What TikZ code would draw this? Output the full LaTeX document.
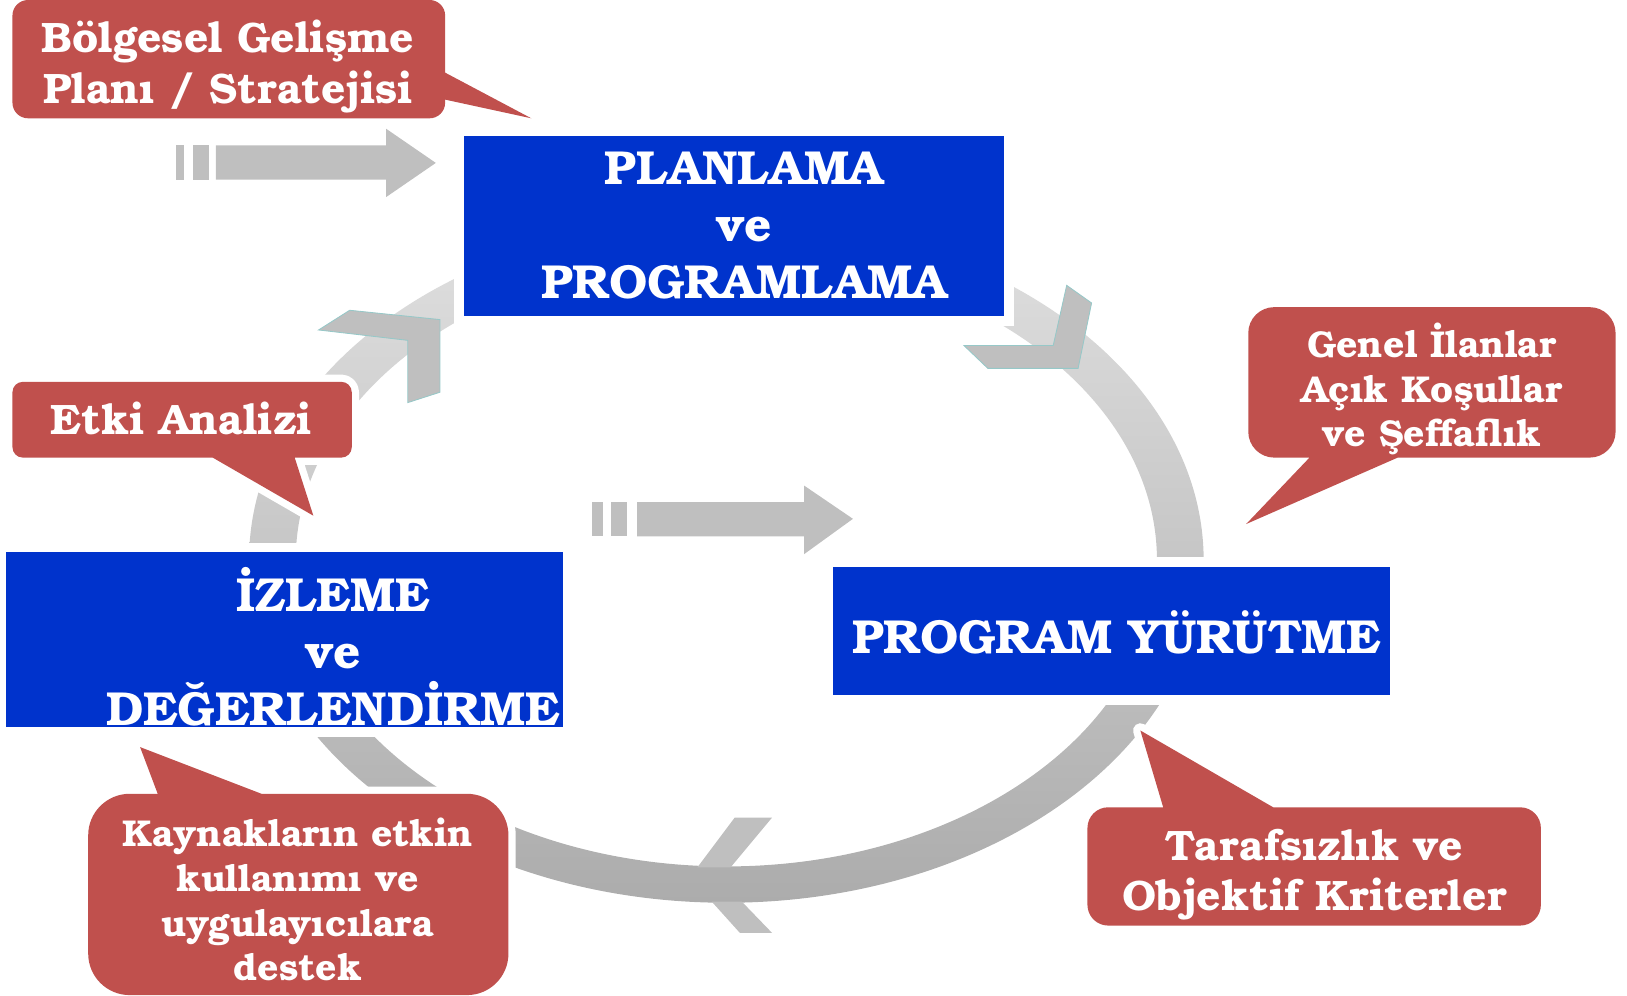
\documentclass[tikz,border=0pt]{standalone}
\usepackage{fontspec}
\setmainfont{TeX Gyre Bonum}
\definecolor{boxblue}{RGB}{0,51,204}
\definecolor{calloutred}{RGB}{192,80,77}
\definecolor{chevgray}{RGB}{191,191,191}
\definecolor{chevedge}{RGB}{150,200,200}
\definecolor{ringtop}{RGB}{224,224,224}
\definecolor{ringmid}{RGB}{204,204,204}
\definecolor{ringbot}{RGB}{172,172,172}
\begin{document}
\begin{tikzpicture}[x=1pt,y=-1pt,
  bluebox/.style={fill=boxblue, preaction={draw=white, line width=18}, inner sep=0, outer sep=0},
  boxtext/.style={text=white, align=center, inner sep=0, font=\fontsize{46}{55}\selectfont\bfseries},
  callout/.style={fill=calloutred, line join=round, preaction={draw=white, line width=14, line join=round}},
  calltext/.style={text=white, align=center, inner sep=0},
  chevron/.style={fill=chevgray, draw=chevedge, line width=0.8},
  blockarrow/.style={fill=chevgray}]
\useasboundingbox (0,0) rectangle (1568,959);

% the cycle ring
\shade[even odd rule, top color=ringtop, middle color=ringmid, bottom color=ringbot]
  (700,540) ellipse [x radius=460, y radius=330]
  (700,540) ellipse [x radius=415, y radius=295];

% main stages
\node[bluebox, anchor=north west, minimum width=521, minimum height=174] (plan) at (447,131) {};
\node[bluebox, anchor=north west, minimum width=537, minimum height=124] (exec) at (803,546) {};
\node[bluebox, anchor=north west, minimum width=537, minimum height=169] (eval) at (6,532) {};

\node[boxtext] (plan-t) at (717,217) {PLANLAMA\\ve\\PROGRAMLAMA};
\node[boxtext] (exec-t) at (1076,609) {PROGRAM YÜRÜTME};
\node[boxtext] (eval-t) at (321,623) {İZLEME\\ve\\DEĞERLENDİRME};

% chevrons on the ring
\draw[chevron] (929,333) -- (1015,333) -- (1028,275) -- (1052,292) -- (1039,355) -- (952,355) -- cycle;
\draw[chevron] (307,318) -- (337,299) -- (424,308) -- (424,378) -- (393,388) -- (393,328) -- cycle;
\fill[chevgray] (672,836) -- (708,788) -- (744,788) -- (704,836) -- cycle;
\fill[chevgray] (686,869) -- (713,899) -- (744,899) -- (715,869) -- cycle;

% striped block arrows
\fill[blockarrow] (170,140) rectangle (177,173);
\fill[blockarrow] (186,140) rectangle (201,173);
\fill[blockarrow] (208,140) -- (372,140) -- (372,124) -- (420,157) -- (372,190) -- (372,173) -- (208,173) -- cycle;
\fill[blockarrow] (571,484) rectangle (581,517);
\fill[blockarrow] (589,484) rectangle (604,517);
\fill[blockarrow] (614,484) -- (775,484) -- (775,468) -- (822,500) -- (775,534) -- (775,517) -- (614,517) -- cycle;

% callouts
\path[callout] [rounded corners=15] (12,0) rectangle (429,114)
  [sharp corners] (429,70) -- (512,114) -- (429,96) -- cycle;
\node[calltext, font=\fontsize{41}{49}\selectfont\bfseries] (plan-note) at (220,64)
  {Bölgesel Gelişme\\Planı / Stratejisi};

\path[callout] [rounded corners=10] (12,368) rectangle (339,441)
  [sharp corners] (205,441) -- (302,497) -- (284,441) -- cycle;
\node[calltext, font=\fontsize{41}{49}\selectfont\bfseries] (impact) at (175,403) {Etki Analizi};

\path[callout] [rounded corners=25] (1203,296) rectangle (1557,441)
  [sharp corners] (1262,441) -- (1201,505) -- (1347,441) -- cycle;
\node[calltext, font=\fontsize{36}{43}\selectfont\bfseries] (notice) at (1380,375)
  {Genel İlanlar\\Açık Koşullar\\ve Şeffaflık};

\path[callout] [rounded corners=40] (85,765) rectangle (490,959)
  [sharp corners] (152,765) -- (135,720) -- (252,765) -- cycle;
\node[calltext, font=\fontsize{36}{43}\selectfont\bfseries] (resources) at (287,867)
  {Kaynakların etkin\\kullanımı ve\\uygulayıcılara\\destek};

\path[callout] [rounded corners=20] (1048,778) rectangle (1485,892)
  [sharp corners] (1121,778) -- (1099,704) -- (1227,778) -- cycle;
\node[calltext, font=\fontsize{41}{48}\selectfont\bfseries] (criteria) at (1267,843)
  {Tarafsızlık ve\\Objektif Kriterler};
\end{tikzpicture}
\end{document}
